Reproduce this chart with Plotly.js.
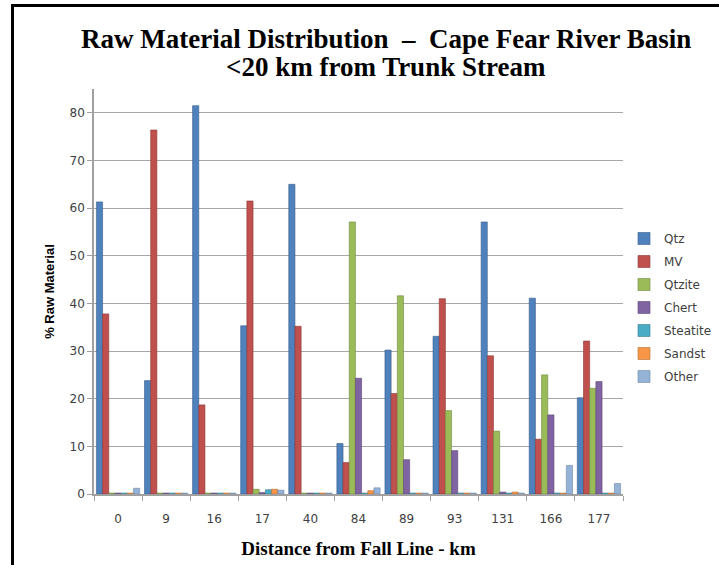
<!DOCTYPE html>
<html>
<head>
<meta charset="utf-8">
<script src="https://cdn.plot.ly/plotly-3.0.1.min.js"></script>
<style>html,body{margin:0;padding:0;background:#fff;}#chart{width:719px;height:565px;}</style>
</head>
<body>
<div id="chart"></div>
<script>
const categories = ['0','9','16','17','40','84','89','93','131','166','177'];
const seriesNames = ['Qtz','MV','Qtzite','Chert','Steatite','Sandst','Other'];
const qtz      = [61.3, 23.8, 81.5, 35.3, 65.0, 10.6, 30.2, 33.1, 57.1, 41.1, 20.2];
const mv       = [37.8, 76.4, 18.7, 61.5, 35.2,  6.6, 21.1, 41.0, 29.0, 11.5, 32.1];
const qtzite   = [0.2, 0.2, 0.2, 1.0, 0.2, 57.1, 41.6, 17.5, 13.2, 25.0, 22.2];
const chert    = [0.2, 0.2, 0.2, 0.3, 0.2, 24.3,  7.2,  9.1,  0.4, 16.6, 23.6];
const steatite = [0.2, 0.2, 0.2, 0.9, 0.2,  0.2,  0.2,  0.2,  0.2,  0.2,  0.2];
const sandst   = [0.2, 0.2, 0.2, 1.0, 0.2,  0.7,  0.2,  0.2,  0.4,  0.2,  0.2];
const other    = [1.2, 0.2, 0.2, 0.8, 0.2,  1.3,  0.2,  0.2,  0.2,  6.0,  2.2];
const seriesValues = [qtz, mv, qtzite, chert, steatite, sandst, other];
const titleLines = ['Raw Material Distribution \u00a0\u2013\u00a0 Cape Fear River Basin', '&lt;20 km from Trunk Stream'];
const colors = ['#4F81BD','#C0504D','#9BBB59','#8064A2','#4BACC6','#F79646','#95B3D7'];
const edgeColors = ['#385D8A','#8C3836','#71893F','#5C4776','#357D91','#B66D31','#6D86A8'];

const traces = seriesNames.map((name, i) => ({
  type: 'bar',
  name: name,
  x: categories,
  y: seriesValues[i],
  legendgroup: name,
  marker: {color: colors[i], line: {color: edgeColors[i], width: 0.6}},
  hoverinfo: 'x+y+name'
}));

const M = {l: 94, r: 96, t: 89, b: 71, autoexpand: false};
const W = 719, H = 565;
const pw = W - M.l - M.r, ph = H - M.t - M.b;
const px = v => (v - M.l) / pw;
const py = v => (H - M.b - v) / ph;
const titleFont = {family: 'Liberation Serif, Times New Roman, serif', size: 27, color: '#000'};

const layout = {
  width: W, height: H,
  margin: M,
  paper_bgcolor: '#ffffff',
  plot_bgcolor: '#ffffff',
  barmode: 'group',
  bargap: 0.1,
  bargroupgap: 0,
  showlegend: true,
  xaxis: {
    type: 'category',
    showline: true, linecolor: '#a0a0a0', linewidth: 1.5,
    ticks: 'outside', tickson: 'boundaries', ticklen: 5, tickcolor: '#a0a0a0',
    ticklabelstandoff: 13,
    showgrid: false,
    tickfont: {family: 'DejaVu Sans, sans-serif', size: 12, color: '#404040'},
    title: {text: '<b>Distance from Fall Line - km</b>', font: {family: 'Liberation Serif, Times New Roman, serif', size: 19, color: '#000'}, standoff: 17}
  },
  yaxis: {
    range: [0, 85],
    dtick: 10,
    showline: true, linecolor: '#a0a0a0', linewidth: 1.5,
    ticks: 'outside', ticklen: 5, tickcolor: '#a0a0a0',
    gridcolor: '#a8a8a8', gridwidth: 1,
    zeroline: false,
    tickfont: {family: 'DejaVu Sans, sans-serif', size: 12, color: '#404040'},
    title: {text: '<b>% Raw Material</b>', font: {family: 'Liberation Sans Narrow, Liberation Sans, Arial, sans-serif', size: 13, color: '#000'}, standoff: 12}
  },
  legend: {
    x: px(624), xanchor: 'left',
    y: py(224), yanchor: 'top',
    font: {family: 'DejaVu Sans, sans-serif', size: 12, color: '#404040'},
    traceorder: 'grouped',
    tracegroupgap: 4,
    itemwidth: 30,
    bgcolor: 'rgba(0,0,0,0)'
  },
  annotations: [
    {text: '<b>' + titleLines[0] + '</b>', xref: 'paper', yref: 'paper', x: px(386), y: py(39), xanchor: 'center', yanchor: 'middle', showarrow: false, font: titleFont},
    {text: '<b>' + titleLines[1] + '</b>', xref: 'paper', yref: 'paper', x: px(386), y: py(67), xanchor: 'center', yanchor: 'middle', showarrow: false, font: titleFont}
  ],
  shapes: [
    {type: 'line', xref: 'paper', yref: 'paper', x0: px(12.5), x1: px(12.5), y0: py(4), y1: py(566), line: {color: '#000', width: 3}},
    {type: 'line', xref: 'paper', yref: 'paper', x0: px(11), x1: px(720), y0: py(5.5), y1: py(5.5), line: {color: '#000', width: 3}}
  ]
};

Plotly.newPlot('chart', traces, layout, {displayModeBar: false, responsive: false});
</script>
</body>
</html>
